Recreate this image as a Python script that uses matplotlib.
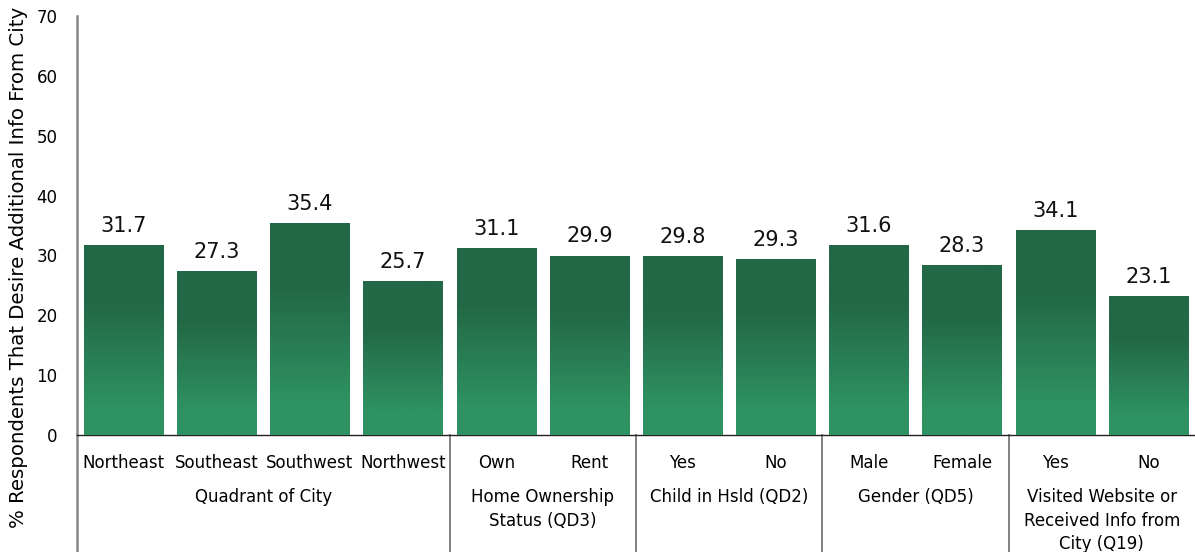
"""Bar chart: share of respondents that desire additional info from the city."""

import matplotlib

matplotlib.use("Agg")
import matplotlib.pyplot as plt
import matplotlib.transforms as mtransforms
import numpy as np

plt.rcParams["font.family"] = ["DejaVu Sans"]

categories = [
    "Northeast", "Southeast", "Southwest", "Northwest",
    "Own", "Rent",
    "Yes", "No",
    "Male", "Female",
    "Yes", "No",
]
values = [31.7, 27.3, 35.4, 25.7, 31.1, 29.9, 29.8, 29.3, 31.6, 28.3, 34.1, 23.1]
groups = [
    "Quadrant of City",
    "Home Ownership\nStatus (QD3)",
    "Child in Hsld (QD2)",
    "Gender (QD5)",
    "Visited Website or\nReceived Info from\nCity (Q19)",
]
group_sizes = [4, 2, 2, 2, 2]

dark = np.array([35, 104, 70]) / 255
light = np.array([46, 146, 98]) / 255

fig = plt.figure(figsize=(11.95, 5.52), dpi=100)
ax = fig.add_axes([77 / 1195, 1 - 435 / 552, 1 - 77 / 1195, 419 / 552])

x = np.arange(len(values))
width = 0.85
bars = ax.bar(x, values, width=width, color=light, zorder=2)

# vertical gradient inside every bar: dark at top, lighter at the base
t = np.linspace(0, 1, 200)  # 0 = bottom, 1 = top
w = np.clip((t - 0.15) / 0.55, 0, 1)
grad = light[None, :] * (1 - w[:, None]) + dark[None, :] * w[:, None]
grad = grad[:, None, :]
for b, v in zip(bars, values):
    x0 = b.get_x()
    ax.imshow(grad, extent=(x0, x0 + b.get_width(), 0, v), origin="lower",
              aspect="auto", zorder=3, interpolation="bilinear")
    ax.text(b.get_x() + b.get_width() / 2, v + 1.6, f"{v:.1f}",
            ha="center", va="bottom", fontsize=15, color="#111111")

ax.set_xlim(-0.5, len(values) - 0.5)
ax.set_ylim(0, 70)
ax.set_yticks(range(0, 71, 10))
ax.tick_params(axis="y", length=0, labelsize=12, pad=14)
ax.set_xticks(x)
ax.set_xticklabels(categories, fontsize=12)
ax.tick_params(axis="x", length=0, pad=14)

for s in ("top", "right"):
    ax.spines[s].set_visible(False)
ax.spines["left"].set_color("#888888")
ax.spines["left"].set_linewidth(1.8)
ax.spines["bottom"].set_color("#222222")
ax.spines["bottom"].set_linewidth(1.0)

ax.set_ylabel("% Respondents That Desire Additional Info From City",
              fontsize=14.2)
ax.yaxis.set_label_coords(-49 / 1118, 0.40)

# group separators and group labels under the category axis
trans = mtransforms.blended_transform_factory(ax.transData, ax.transAxes)
bottom = -117 / 419
ax.plot([-0.5, -0.5], [0, bottom], transform=trans, color="#888888",
        lw=1.8, clip_on=False)
start = 0
for name, n in zip(groups, group_sizes):
    end = start + n
    if end < len(values):
        ax.plot([end - 0.5, end - 0.5], [0, bottom], transform=trans,
                color="#777777", lw=1.3, clip_on=False)
    ax.text((start + end - 1) / 2, -53 / 419, name, transform=trans,
            ha="center", va="top", fontsize=12, linespacing=1.4)
    start = end

fig.savefig("out.png", dpi=100)
